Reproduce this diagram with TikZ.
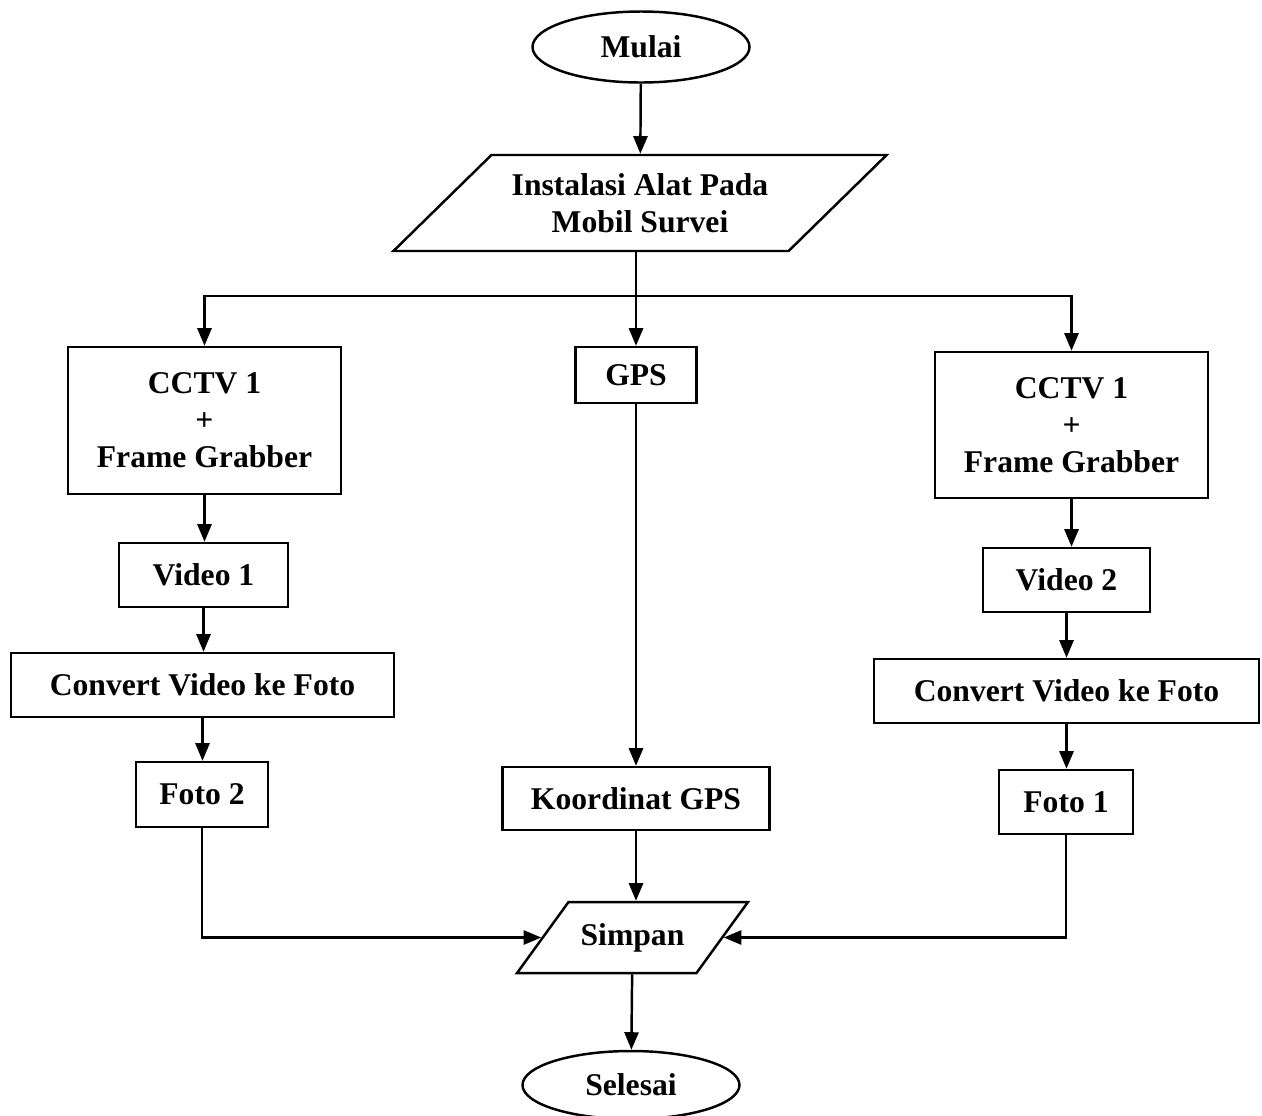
\documentclass[tikz,border=0pt]{standalone}
\usepackage{fontspec}
\setmainfont{Liberation Serif}
\usetikzlibrary{arrows.meta,shapes.geometric,positioning}

\tikzset{
  box/.style={draw, rectangle, minimum height=1.28cm},
  term/.style={draw, ellipse, minimum width=4.34cm, minimum height=1.42cm},
  io/.style={draw, trapezium, trapezium stretches=true}
}

\begin{document}
\begin{tikzpicture}[line width=1.4pt, >={Triangle[length=10pt,width=8pt]},
  every node/.append style={font=\fontsize{18}{21}\selectfont\bfseries, align=center, inner sep=0pt}]
\useasboundingbox (0,0) rectangle (25.24,-22.30);
% middle column
\node [term] (mulai) at (12.82,-0.94) {Mulai};
\node [io, trapezium left angle=35, trapezium right angle=145, minimum width=9.88cm, minimum height=1.92cm] (inst) at (12.80,-4.06) {Instalasi Alat Pada\\Mobil Survei};
\node [box, minimum width=2.42cm, minimum height=1.12cm] (gps) at (12.72,-7.50) {GPS};
\node [box, minimum width=5.34cm, minimum height=1.26cm] (koord) at (12.72,-15.97) {Koordinat GPS};
\node [io, trapezium left angle=34.5, trapezium right angle=145.5, minimum width=4.62cm, minimum height=1.42cm] (simpan) at (12.65,-18.75) {Simpan};
\node [term, minimum height=1.36cm] (selesai) at (12.62,-21.70) {Selesai};
% left column
\node [box, minimum width=5.46cm, minimum height=2.94cm] (cctva) at (4.09,-8.41) {CCTV 1\\+\\Frame Grabber};
\node [box, minimum width=3.38cm] (videoa) at (4.07,-11.50) {Video 1};
\node [box, minimum width=7.66cm] (conva) at (4.05,-13.70) {Convert Video ke Foto};
\node [box, minimum width=2.64cm, minimum height=1.30cm] (fotoa) at (4.04,-15.89) {Foto 2};
% right column
\node [box, minimum width=5.46cm, minimum height=2.92cm] (cctvb) at (21.43,-8.50) {CCTV 1\\+\\Frame Grabber};
\node [box, minimum width=3.34cm] (videob) at (21.33,-11.60) {Video 2};
\node [box, minimum width=7.70cm] (convb) at (21.33,-13.82) {Convert Video ke Foto};
\node [box, minimum width=2.68cm] (fotob) at (21.32,-16.04) {Foto 1};
\coordinate (cabang) at (12.76,-5.92);
% arrows
\draw [->] (mulai) -- (inst);
\draw [->] (inst.south -| gps) -- (gps.north);
\draw [->] (cabang) -| (cctva.north);
\draw [->] (cabang) -| (cctvb.north);
\draw [->] (cctva) -- (cctva |- videoa.north);
\draw [->] (videoa) -- (videoa |- conva.north);
\draw [->] (conva) -- (conva |- fotoa.north);
\draw [->] (cctvb) -- (cctvb |- videob.north);
\draw [->] (videob) -- (videob |- convb.north);
\draw [->] (convb) -- (convb |- fotob.north);
\draw [->] (gps) -- (koord);
\draw [->] (koord) -- (koord |- simpan.north);
\draw [->] (fotoa.south) |- (simpan.west);
\draw [->] (fotob.south) |- (simpan.east);
\draw [->] (simpan) -- (selesai);
\end{tikzpicture}
\end{document}
